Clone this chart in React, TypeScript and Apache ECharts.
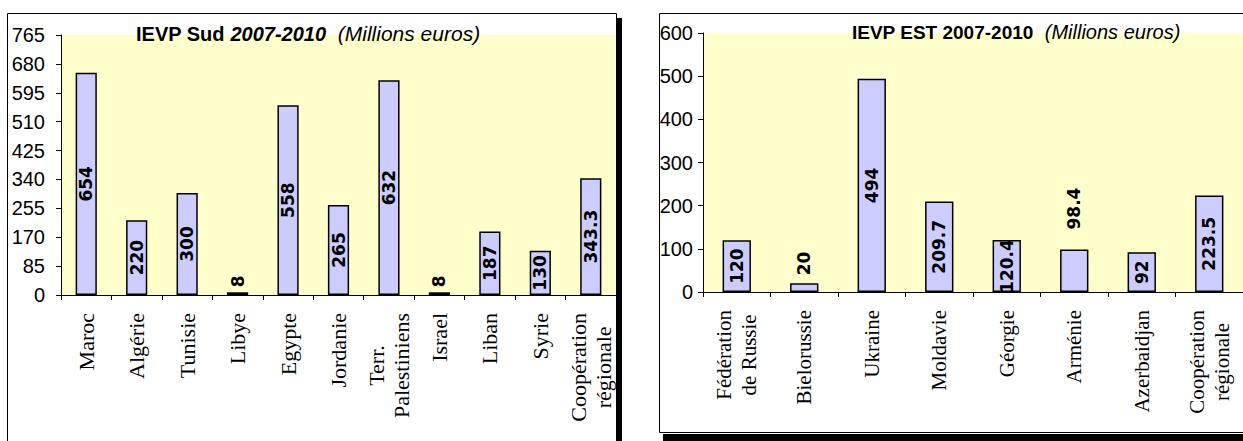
import React, { useEffect, useRef } from "react";
import * as echarts from "echarts";

// ---- Data: IEVP Sud 2007-2010 (Millions euros)
const sudCategories = [
  "Maroc",
  "Algérie",
  "Tunisie",
  "Libye",
  "Egypte",
  "Jordanie",
  "Terr.\nPalestiniens",
  "Israel",
  "Liban",
  "Syrie",
  "Coopération\nrégionale",
];
const sudValues = [654, 220, 300, 8, 558, 265, 632, 8, 187, 130, 343.3];
const sudAxisMax = 765;
const sudAxisStep = 85;

// ---- Data: IEVP EST 2007-2010 (Millions euros)
const estCategories = [
  "Fédération\nde Russie",
  "Bielorussie",
  "Ukraine",
  "Moldavie",
  "Géorgie",
  "Arménie",
  "Azerbaidjan",
  "Coopération\nrégionale",
];
const estValues = [120, 20, 494, 209.7, 120.4, 98.4, 92, 223.5];
const estAxisMax = 600;
const estAxisStep = 100;

// labels drawn above the bar instead of inside (index -> distance)
const sudLabelAbove: Record<number, number> = { 3: 5, 7: 5 };
const estLabelAbove: Record<number, number> = { 1: 8, 5: 20 };

const YELLOW = "#FFFFCC";
const BAR = "#CCCCFF";
const SANS = "'Liberation Sans', Arial, sans-serif";
const SERIF = "'Liberation Serif', 'Times New Roman', serif";

function buildData(values: number[], above: Record<number, number>) {
  return values.map((v, i) =>
    above[i] != null
      ? {
          value: v,
          label: {
            position: "top",
            distance: above[i],
            align: "left",
            verticalAlign: "middle",
          },
        }
      : v
  );
}

function xAxisFor(gridIndex: number, cats: string[], fontSize: number) {
  return {
    type: "category",
    gridIndex,
    data: cats,
    boundaryGap: true,
    axisLine: { show: true, lineStyle: { color: "#000", width: 1 } },
    axisTick: { show: true, length: 5, lineStyle: { color: "#000" } },
    axisLabel: {
      interval: 0,
      rotate: 90,
      margin: 18,
      color: "#000",
      fontFamily: SERIF,
      fontSize,
      formatter: (v: string) => `{c|${v}}`,
      rich: {
        c: {
          align: "center",
          fontFamily: SERIF,
          fontSize,
          lineHeight: 25,
          color: "#000",
        },
      },
    },
    splitLine: { show: false },
  };
}

function yAxisFor(gridIndex: number, max: number, step: number, margin: number) {
  return {
    type: "value",
    gridIndex,
    min: 0,
    max,
    interval: step,
    axisLine: { show: true, lineStyle: { color: "#000", width: 1 } },
    axisTick: { show: true, length: 5, lineStyle: { color: "#000" } },
    axisLabel: {
      color: "#000",
      fontFamily: SANS,
      fontSize: 20,
      margin,
    },
    splitLine: { show: false },
  };
}

function barSeries(idx: number, data: any[]) {
  return {
    type: "bar",
    xAxisIndex: idx,
    yAxisIndex: idx,
    data,
    barWidth: "42%",
    itemStyle: { color: BAR, borderColor: "#000", borderWidth: 1.5 },
    label: {
      show: true,
      position: "inside",
      rotate: 90,
      align: "center",
      verticalAlign: "middle",
      color: "#000",
      fontFamily: "'DejaVu Sans', sans-serif",
      fontWeight: "bold",
      fontSize: 17,
    },
  };
}

export default function App() {
  const ref = useRef<HTMLDivElement>(null);

  useEffect(() => {
    if (!ref.current) return;
    const chart = echarts.init(ref.current, undefined, { renderer: "svg" });
    const titleRich = (size: number, italicSize: number) => ({
      a: { fontFamily: SANS, fontSize: size, fontWeight: "bold", color: "#000" },
      b: {
        fontFamily: SANS,
        fontSize: size,
        fontWeight: "bold",
        fontStyle: "italic",
        color: "#000",
      },
      c: {
        fontFamily: SANS,
        fontSize: italicSize,
        fontWeight: "normal",
        fontStyle: "italic",
        color: "#000",
      },
    });
    chart.setOption({
      animation: false,
      backgroundColor: "#fff",
      title: [
        {
          text: "{a|IEVP Sud }{b|2007-2010}{c|  (Millions euros)}",
          left: 136,
          top: 23,
          padding: 0,
          textStyle: { fontWeight: "normal", rich: titleRich(20, 21) },
        },
        {
          text: "{a|IEVP EST 2007-2010}{c|  (Millions euros)}",
          left: 852,
          top: 22,
          padding: 0,
          textStyle: { fontWeight: "normal", rich: titleRich(19, 20) },
        },
      ],
      grid: [
        {
          left: 61,
          top: 35,
          width: 555,
          height: 260,
          show: true,
          backgroundColor: YELLOW,
          borderWidth: 0,
        },
        {
          left: 703,
          top: 33,
          width: 551,
          height: 259,
          show: true,
          backgroundColor: YELLOW,
          borderWidth: 0,
        },
      ],
      xAxis: [xAxisFor(0, sudCategories, 22), xAxisFor(1, estCategories, 21)],
      yAxis: [
        yAxisFor(0, sudAxisMax, sudAxisStep, 16),
        yAxisFor(1, estAxisMax, estAxisStep, 10),
      ],
      series: [
        barSeries(0, buildData(sudValues, sudLabelAbove)),
        barSeries(1, buildData(estValues, estLabelAbove)),
      ],
      graphic: [
        {
          type: "rect",
          shape: { x: 7.5, y: 13.5, width: 609, height: 440 },
          style: { fill: "none", stroke: "#000", lineWidth: 1 },
          z: 10,
        },
        {
          type: "rect",
          shape: { x: 617, y: 18, width: 5, height: 430 },
          style: { fill: "#000" },
          z: 10,
        },
        {
          type: "rect",
          shape: { x: 659.5, y: 13.5, width: 700, height: 419 },
          style: { fill: "none", stroke: "#000", lineWidth: 1 },
          z: 10,
        },
        {
          type: "rect",
          shape: { x: 663, y: 434, width: 700, height: 8 },
          style: { fill: "#000" },
          z: 10,
        },
      ],
    });
    return () => chart.dispose();
  }, []);

  return (
    <div
      ref={ref}
      style={{ position: "absolute", left: 0, top: 0, width: 1243, height: 441 }}
    />
  );
}
